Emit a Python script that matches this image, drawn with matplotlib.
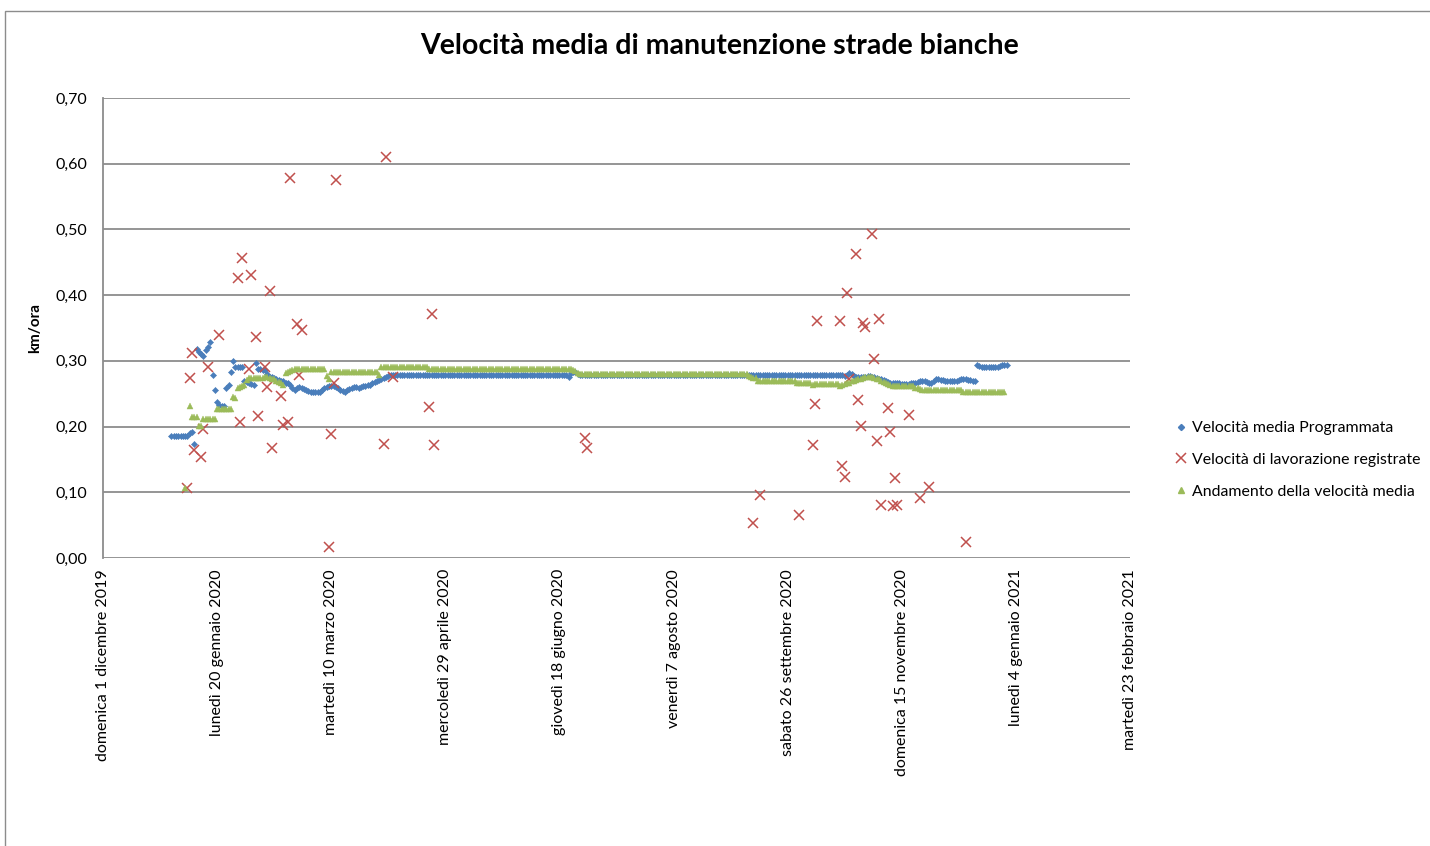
import numpy as np
import pandas as pd
import matplotlib

matplotlib.use("Agg")
import matplotlib.pyplot as plt
from matplotlib.lines import Line2D
from matplotlib.patches import Rectangle

plt.rcParams["font.family"] = ["Lato", "DejaVu Sans"]

ORIGIN = pd.Timestamp("2019-12-01")

# x axis: days since 1 Dec 2019, one label every 50 days
tick_days = [0, 50, 100, 150, 200, 250, 300, 350, 400, 450]
tick_labels = [
    "domenica 1 dicembre 2019",
    "lunedì 20 gennaio 2020",
    "martedì 10 marzo 2020",
    "mercoledì 29 aprile 2020",
    "giovedì 18 giugno 2020",
    "venerdì 7 agosto 2020",
    "sabato 26 settembre 2020",
    "domenica 15 novembre 2020",
    "lunedì 4 gennaio 2021",
    "martedì 23 febbraio 2021",
]
y_ticks = [0.0, 0.1, 0.2, 0.3, 0.4, 0.5, 0.6, 0.7]

# Velocità media Programmata: one value per day from 31 Dec 2019,
# stored as runs (value, number of consecutive days)
prog_start = "2019-12-31"
prog_vals = [
    0.186, 0.190, 0.192, 0.173, 0.318, 0.313, 0.311, 0.308, 0.316, 0.321,
    0.329, 0.278, 0.255, 0.237, 0.233, 0.232, 0.259, 0.264, 0.283, 0.300,
    0.291, 0.290, 0.270, 0.268, 0.266, 0.265, 0.263, 0.296, 0.288, 0.287,
    0.286, 0.280, 0.276, 0.275, 0.274, 0.272, 0.271, 0.270, 0.269, 0.267,
    0.266, 0.263, 0.259, 0.256, 0.259, 0.260, 0.258, 0.257, 0.255, 0.254,
    0.253, 0.252, 0.253, 0.256, 0.258, 0.260, 0.262, 0.261, 0.260, 0.258,
    0.256, 0.254, 0.253, 0.255, 0.257, 0.259, 0.260, 0.259, 0.260, 0.261,
    0.262, 0.263, 0.264, 0.266, 0.268, 0.270, 0.271, 0.272, 0.274, 0.275,
    0.277, 0.278, 0.2785, 0.276, 0.281, 0.2835, 0.283, 0.280, 0.279, 0.277,
    0.279, 0.282, 0.280, 0.277, 0.276, 0.275, 0.276, 0.277, 0.276, 0.275,
    0.274, 0.273, 0.272, 0.271, 0.269, 0.268, 0.267, 0.266, 0.265, 0.266,
    0.267, 0.268, 0.269, 0.270, 0.269, 0.268, 0.267, 0.266, 0.270, 0.272,
    0.271, 0.270, 0.269, 0.270, 0.271, 0.272, 0.271, 0.270, 0.294, 0.292,
    0.291, 0.290, 0.291, 0.292, 0.293,
]
prog_days = [
    8, 1, 1, 1, 1, 1, 1, 1, 1, 1,
    1, 1, 1, 1, 1, 2, 1, 1, 1, 1,
    3, 1, 1, 1, 1, 1, 1, 1, 1, 1,
    2, 1, 1, 1, 1, 1, 1, 1, 1, 1,
    1, 1, 1, 1, 1, 1, 1, 1, 1, 1,
    1, 3, 1, 1, 1, 1, 2, 1, 1, 1,
    1, 1, 1, 1, 1, 1, 2, 1, 1, 1,
    1, 1, 1, 1, 1, 1, 1, 1, 1, 1,
    1, 1, 77, 1, 1, 1, 1, 1, 116, 1,
    1, 1, 1, 1, 1, 3, 1, 2, 1, 1,
    1, 1, 1, 1, 1, 1, 2, 3, 4, 2,
    1, 1, 1, 1, 1, 1, 1, 1, 1, 2,
    2, 2, 3, 1, 1, 3, 2, 2, 1, 1,
    2, 3, 3, 1, 3,
]

# Andamento della velocità media: one value per day from 6 Jan 2020
avg_start = "2020-01-06"
avg_vals = [
    0.106, np.nan, 0.231, 0.215, 0.214, 0.201, 0.211, 0.226, 0.245, 0.243,
    0.258, 0.260, 0.261, 0.263, 0.271, 0.274, 0.276, 0.275, 0.274, 0.273,
    0.272, 0.270, 0.268, 0.266, 0.263, 0.281, 0.283, 0.285, 0.286, 0.288,
    0.277, 0.273, 0.2835, 0.278, 0.290, 0.287, 0.286, 0.284, 0.281, 0.280,
    0.2795, 0.277, 0.275, 0.274, 0.270, 0.266, 0.263, 0.265, 0.262, 0.263,
    0.265, 0.266, 0.267, 0.269, 0.270, 0.271, 0.272, 0.273, 0.274, 0.275,
    0.274, 0.273, 0.272, 0.270, 0.268, 0.266, 0.265, 0.264, 0.262, 0.259,
    0.258, 0.257, 0.2555, 0.2525,
]
avg_days = [
    1, 1, 1, 2, 1, 2, 6, 7, 1, 1,
    1, 1, 1, 1, 1, 7, 1, 1, 1, 1,
    1, 1, 1, 1, 1, 1, 1, 1, 1, 14,
    1, 1, 21, 1, 21, 63, 1, 1, 1, 1,
    73, 1, 1, 2, 17, 7, 1, 11, 1, 1,
    1, 1, 1, 1, 1, 1, 1, 1, 1, 4,
    1, 1, 1, 1, 1, 1, 1, 1, 10, 1,
    1, 1, 18, 19,
]

# Velocità di lavorazione registrate (days since 1 Dec 2019, km/ora)
rec_day = [
    37, 38, 39, 40, 43, 44, 46, 51, 59, 60, 61, 64, 65, 67, 68, 71, 72, 73,
    74, 78, 79, 81, 82, 85, 86, 87, 99, 100, 101, 102, 123, 124, 127, 143,
    144, 145, 211, 212, 285, 288, 305, 311, 312, 313, 323, 324, 325, 326,
    327, 330, 331, 332, 333, 334, 337, 338, 339, 340, 341, 344, 345, 346,
    347, 348, 353, 358, 362, 378,
]
rec_val = [
    0.106, 0.274, 0.312, 0.165, 0.153, 0.197, 0.290, 0.340, 0.426, 0.207,
    0.457, 0.288, 0.431, 0.336, 0.216, 0.291, 0.260, 0.407, 0.168, 0.247,
    0.202, 0.207, 0.579, 0.356, 0.279, 0.347, 0.016, 0.189, 0.266, 0.575,
    0.173, 0.610, 0.275, 0.230, 0.372, 0.172, 0.182, 0.167, 0.053, 0.096,
    0.065, 0.172, 0.234, 0.360, 0.360, 0.140, 0.123, 0.403, 0.273, 0.462,
    0.241, 0.201, 0.358, 0.351, 0.493, 0.303, 0.178, 0.364, 0.080, 0.229,
    0.191, 0.079, 0.121, 0.080, 0.218, 0.092, 0.108, 0.025,
]

BLUE = "#4A7EBB"
RED = "#C0504D"
GREEN = "#9BBB59"
GRID = "#8C8C8C"

prog = np.repeat(prog_vals, prog_days)
prog_dates = pd.date_range(prog_start, periods=len(prog), freq="D")
avg = np.repeat(avg_vals, avg_days)
avg_dates = pd.date_range(avg_start, periods=len(avg), freq="D")
rec_dates = ORIGIN + pd.to_timedelta(rec_day, unit="D")

W, H = 1430, 846
fig = plt.figure(figsize=(W / 100, H / 100), dpi=100)
fig.patches.append(Rectangle((5 / W, -0.1), 1.2, 1 - 11 / H + 0.1,
                             transform=fig.transFigure, fill=False,
                             edgecolor=GRID, linewidth=1.0))

ax = fig.add_axes([103 / W, 1 - 558 / H, 1027 / W, 460 / H])
ax.plot(prog_dates, prog, linestyle="none", marker="D", markersize=3.1,
        color=BLUE, markeredgewidth=0.4)
ax.plot(rec_dates, rec_val, linestyle="none", marker="x", markersize=7.5,
        color=RED, markeredgewidth=1.1)
ax.plot(avg_dates, avg, linestyle="none", marker="^", markersize=4.2,
        color=GREEN, markeredgewidth=0.3)

ax.set_xlim(ORIGIN, ORIGIN + pd.Timedelta(days=450))
ax.set_ylim(0, 0.7)
ax.set_xticks(ORIGIN + pd.to_timedelta(tick_days, unit="D"))
ax.set_xticklabels(tick_labels, rotation=90, va="top", ha="center")
ax.set_yticks(y_ticks)
ax.set_yticklabels([f"{v:.2f}".replace(".", ",") for v in y_ticks])
ax.tick_params(axis="both", length=0, labelsize=11.5, colors="#000000")
ax.tick_params(axis="x", pad=8)
ax.tick_params(axis="y", pad=11)
ax.grid(axis="y", color=GRID, linewidth=1.3)
ax.set_axisbelow(True)
for side in ("top", "right", "bottom"):
    ax.spines[side].set_visible(False)
ax.spines["left"].set_color(GRID)
ax.spines["left"].set_linewidth(1.3)

ax.set_ylabel("km/ora", fontsize=11, fontweight="bold")
ax.yaxis.set_label_coords(-(103 - 42) / 1027, 0.5)

fig.text(720 / W, 1 - 46 / H, "Velocità media di manutenzione strade bianche",
         ha="center", va="center", fontsize=20.5, fontweight="bold")

handles = [
    Line2D([], [], linestyle="none", marker="D", markersize=3.1, color=BLUE),
    Line2D([], [], linestyle="none", marker="x", markersize=7.5, color=RED,
           markeredgewidth=1.1),
    Line2D([], [], linestyle="none", marker="^", markersize=4.2, color=GREEN),
]
labels = [
    "Velocità media Programmata",
    "Velocità di lavorazione registrate",
    "Andamento della velocità media",
]
fig.legend(handles, labels, loc="upper left",
           bbox_to_anchor=(1175 / W, 1 - 421 / H), frameon=False,
           fontsize=11.4, handlelength=0.8, handletextpad=0.25,
           labelspacing=1.12, borderpad=0, borderaxespad=0)

fig.savefig("out.png", dpi=100)
